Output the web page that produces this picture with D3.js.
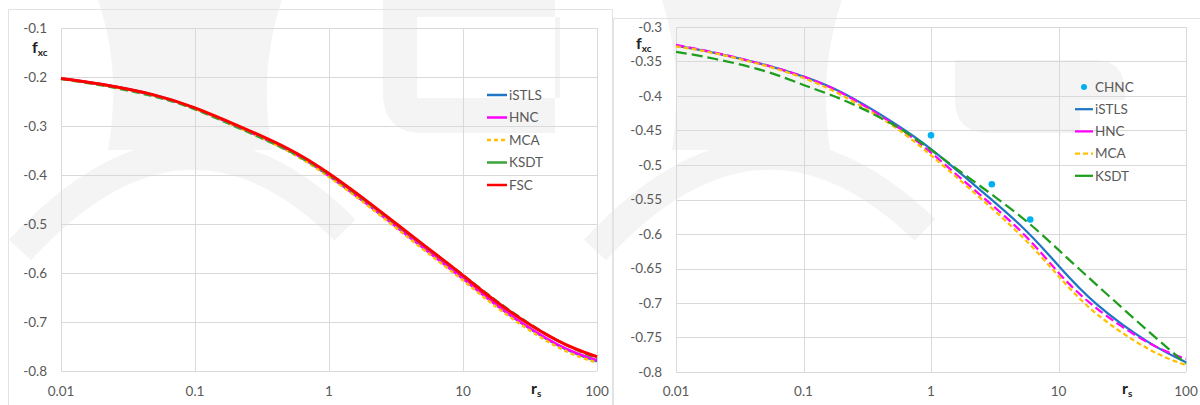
<!DOCTYPE html>
<html>
<head>
<meta charset="utf-8">
<script src="https://cdn.jsdelivr.net/npm/d3@7"></script>
<style>
  body { margin: 0; background: #fff; }
  svg { display: block; }
  text { font-family: Lato, "Open Sans", sans-serif; }
</style>
</head>
<body>
<svg id="chart" width="1200" height="405"></svg>
<script>
// r_s sample points shared by all model curves
const rsValues = [0.01, 0.02, 0.05, 0.1, 0.2, 0.5, 1, 2, 5, 10, 20, 50, 100];

// Left panel: f_xc for each model
const leftISTLS = [-0.203, -0.215, -0.237, -0.264, -0.299, -0.350, -0.401, -0.462, -0.547, -0.611, -0.676, -0.746, -0.780];
const leftHNC   = [-0.203, -0.215, -0.238, -0.264, -0.299, -0.350, -0.402, -0.463, -0.548, -0.612, -0.676, -0.745, -0.778];
const leftMCA   = [-0.203, -0.216, -0.238, -0.265, -0.300, -0.352, -0.404, -0.465, -0.551, -0.615, -0.680, -0.750, -0.783];
const leftKSDT  = [-0.204, -0.217, -0.240, -0.266, -0.301, -0.351, -0.400, -0.459, -0.542, -0.604, -0.667, -0.737, -0.774];
const leftFSC   = [-0.203, -0.215, -0.237, -0.263, -0.297, -0.347, -0.397, -0.457, -0.541, -0.605, -0.669, -0.737, -0.771];

// Right panel: f_xc for each model
const rightISTLS = [-0.327, -0.3375, -0.355, -0.372, -0.395, -0.438, -0.477, -0.523, -0.587, -0.646, -0.702, -0.756, -0.786];
const rightHNC   = [-0.326, -0.337, -0.355, -0.372, -0.396, -0.440, -0.482, -0.530, -0.595, -0.656, -0.708, -0.757, -0.781];
const rightMCA   = [-0.328, -0.338, -0.356, -0.374, -0.399, -0.443, -0.486, -0.534, -0.601, -0.661, -0.716, -0.766, -0.790];
const rightKSDT  = [-0.336, -0.346, -0.364, -0.384, -0.405, -0.441, -0.478, -0.519, -0.574, -0.623, -0.674, -0.740, -0.788];

// Right panel: CHNC data points
const chncRs = [1, 3, 6];
const chncFxc = [-0.457, -0.528, -0.579];

// Axis ticks
const xTickValues = [0.01, 0.1, 1, 10, 100];
const xTickLabels = ["0.01", "0.1", "1", "10", "100"];
const leftYTickValues = [-0.1, -0.2, -0.3, -0.4, -0.5, -0.6, -0.7, -0.8];
const leftYTickLabels = ["-0.1", "-0.2", "-0.3", "-0.4", "-0.5", "-0.6", "-0.7", "-0.8"];
const rightYTickValues = [-0.3, -0.35, -0.4, -0.45, -0.5, -0.55, -0.6, -0.65, -0.7, -0.75, -0.8];
const rightYTickLabels = ["-0.3", "-0.35", "-0.4", "-0.45", "-0.5", "-0.55", "-0.6", "-0.65", "-0.7", "-0.75", "-0.8"];

const svg = d3.select("#chart");
const gridColor = "#d9d9d9";
const textColor = "#595959";

// Faint background emblem
const bgFill = "#f4f4f4";
const bg = svg.append("g").attr("fill", bgFill).attr("stroke", "none");
bg.append("path").attr("d", "M98,0 Q122,70 108,150 L272,150 Q258,70 282,0 Z");
bg.append("path").attr("fill-rule", "evenodd")
  .attr("d", "M383,-40 H555 V133 H423 Q383,133 383,93 Z M417,17 H560 V98 H417 Z");
bg.append("path").attr("d", "M662,0 Q684,70 672,150 L830,150 Q818,70 842,0 Z");
bg.append("path").attr("d", "M955,60 H1095 Q1125,60 1125,93 L1125,100 H1080 V133 H990 Q955,133 955,100 Z");
bg.append("path").attr("fill", "none").attr("stroke", bgFill).attr("stroke-width", 30)
  .attr("d", "M20,250 Q185,70 345,230");
bg.append("path").attr("fill", "none").attr("stroke", bgFill).attr("stroke-width", 30)
  .attr("d", "M595,250 Q760,70 925,230");

// Panel frames
svg.append("path").attr("fill", "none").attr("stroke", "#e3e3e3")
  .attr("d", "M8.5,405 V9.5 H612.5 V405");
svg.append("path").attr("fill", "none").attr("stroke", "#e3e3e3")
  .attr("d", "M613.5,405 V18.5 H1200");

function drawPanel(cfg) {
  const x = d3.scaleLog().domain([0.01, 100]).range([cfg.left, cfg.right]);
  const y = d3.scaleLinear().domain([-0.8, cfg.yTop]).range([cfg.bottom, cfg.top]);
  const g = svg.append("g");

  // Grid
  g.append("g").selectAll("line").data(cfg.yTicks).join("line")
    .attr("x1", cfg.left).attr("x2", cfg.right)
    .attr("y1", d => Math.round(y(d)) + 0.5).attr("y2", d => Math.round(y(d)) + 0.5)
    .attr("stroke", gridColor).attr("stroke-width", 1);
  g.append("g").selectAll("line").data(xTickValues).join("line")
    .attr("x1", d => Math.round(x(d)) + 0.5).attr("x2", d => Math.round(x(d)) + 0.5)
    .attr("y1", cfg.top).attr("y2", cfg.bottom)
    .attr("stroke", gridColor).attr("stroke-width", 1);

  // Tick labels
  g.append("g").selectAll("text").data(cfg.yTicks).join("text")
    .attr("x", cfg.left - 14).attr("y", d => y(d)).attr("dy", "0.35em")
    .attr("text-anchor", "end").attr("fill", textColor).attr("font-size", 13.5)
    .text((d, i) => cfg.yLabels[i]);
  g.append("g").selectAll("text").data(xTickValues).join("text")
    .attr("x", d => x(d)).attr("y", 391).attr("dy", "0.35em")
    .attr("text-anchor", "middle").attr("fill", textColor).attr("font-size", 13.5)
    .text((d, i) => xTickLabels[i]);

  // Axis titles
  const fy = g.append("text").attr("x", cfg.fLabelX).attr("y", cfg.fLabelY)
    .attr("font-weight", "bold").attr("fill", "#222").attr("font-size", 16);
  fy.append("tspan").text("f");
  fy.append("tspan").attr("font-size", 10).attr("dy", 3).text("xc");
  const rx = g.append("text").attr("x", cfg.rLabelX).attr("y", 394)
    .attr("font-weight", "bold").attr("fill", "#222").attr("font-size", 16);
  rx.append("tspan").text("r");
  rx.append("tspan").attr("font-size", 10).attr("dy", 3).text("s");

  // Curves
  const line = d3.line().x(d => x(d[0])).y(d => y(d[1])).curve(d3.curveNatural);
  cfg.series.forEach(s => {
    g.append("path")
      .datum(rsValues.map((r, i) => [r, s.values[i]]))
      .attr("d", line).attr("fill", "none")
      .attr("stroke", s.color).attr("stroke-width", s.width)
      .attr("stroke-dasharray", s.dash || null);
  });

  // Points
  if (cfg.points) {
    g.append("g").selectAll("circle").data(cfg.points.rs).join("circle")
      .attr("cx", d => x(d)).attr("cy", (d, i) => y(cfg.points.values[i]))
      .attr("r", 3.3).attr("fill", cfg.points.color);
  }

  // Legend
  const lg = g.append("g");
  cfg.legend.forEach((item, i) => {
    const ly = cfg.legendY + i * cfg.legendStep;
    if (item.marker) {
      lg.append("circle").attr("cx", (cfg.legendX1 + cfg.legendX2) / 2).attr("cy", ly)
        .attr("r", 3).attr("fill", item.color);
    } else {
      lg.append("line").attr("x1", cfg.legendX1).attr("x2", cfg.legendX2)
        .attr("y1", ly).attr("y2", ly)
        .attr("stroke", item.color).attr("stroke-width", item.width)
        .attr("stroke-dasharray", item.dash || null);
    }
    lg.append("text").attr("x", cfg.legendX2 + 2).attr("y", ly).attr("dy", "0.35em")
      .attr("fill", textColor).attr("font-size", 13.5).text(item.name);
  });
}

drawPanel({
  left: 61, right: 597, top: 28, bottom: 371, yTop: -0.1,
  yTicks: leftYTickValues, yLabels: leftYTickLabels,
  fLabelX: 32, fLabelY: 53, rLabelX: 531,
  series: [
    { values: leftISTLS, color: "#1f77c4", width: 2.5 },
    { values: leftHNC, color: "#ff00ff", width: 2.5 },
    { values: leftMCA, color: "#ffc000", width: 2.5, dash: "4,3" },
    { values: leftKSDT, color: "#3da33d", width: 2.5, dash: "8,4" },
    { values: leftFSC, color: "#ff0000", width: 3 }
  ],
  legendX1: 487, legendX2: 507, legendY: 95, legendStep: 22.5,
  legend: [
    { name: "iSTLS", color: "#1f77c4", width: 2.5 },
    { name: "HNC", color: "#ff00ff", width: 2.5 },
    { name: "MCA", color: "#ffc000", width: 2.5, dash: "4,3" },
    { name: "KSDT", color: "#3da33d", width: 2.5 },
    { name: "FSC", color: "#ff0000", width: 2.5 }
  ]
});

drawPanel({
  left: 676, right: 1186, top: 27, bottom: 372, yTop: -0.3,
  yTicks: rightYTickValues, yLabels: rightYTickLabels,
  fLabelX: 636, fLabelY: 49, rLabelX: 1122,
  series: [
    { values: rightISTLS, color: "#1f77c4", width: 2.25 },
    { values: rightHNC, color: "#ff00ff", width: 2.25, dash: "9,4" },
    { values: rightMCA, color: "#ffc000", width: 2.25, dash: "5,3" },
    { values: rightKSDT, color: "#1e9e1e", width: 2.25, dash: "11,5" }
  ],
  points: { rs: chncRs, values: chncFxc, color: "#00b0f0" },
  legendX1: 1075, legendX2: 1093, legendY: 87, legendStep: 22.2,
  legend: [
    { name: "CHNC", color: "#00b0f0", marker: true },
    { name: "iSTLS", color: "#1f77c4", width: 2.25 },
    { name: "HNC", color: "#ff00ff", width: 2.25 },
    { name: "MCA", color: "#ffc000", width: 2.25, dash: "5,3" },
    { name: "KSDT", color: "#1e9e1e", width: 2.25 }
  ]
});
</script>
</body>
</html>
